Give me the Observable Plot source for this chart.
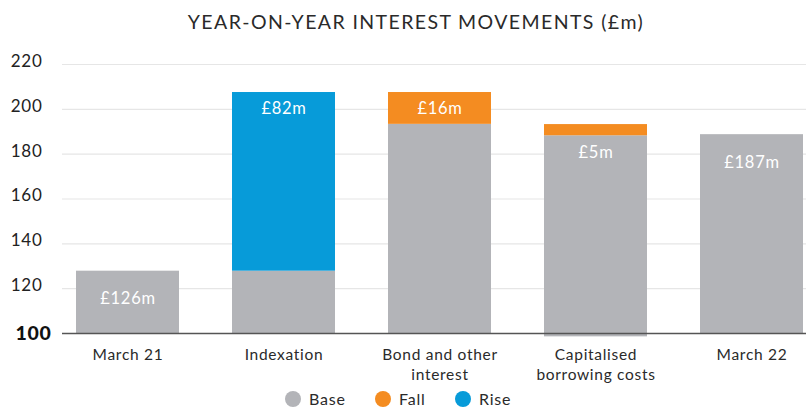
<!DOCTYPE html>
<html>
<head>
<meta charset="utf-8">
<script src="https://cdn.jsdelivr.net/npm/d3@7"></script>
<script src="https://cdn.jsdelivr.net/npm/@observablehq/plot@0.6"></script>
<style>
  html, body { margin: 0; padding: 0; background: #fff; width: 806px; height: 407px; overflow: hidden; font-family: Lato, "Open Sans", sans-serif; }
  #title { height: 40px; line-height: 44px; text-align: center; font-size: 19.5px; color: #2a2a2a; letter-spacing: 1.4px; padding-left: 26px; box-sizing: border-box; }
  #legend { position: relative; height: 22px; }
  .li { position: absolute; top: 4px; display: flex; align-items: center; font-size: 16px; color: #2a2a2a; letter-spacing: 0.8px; }
  .sw { width: 16px; height: 16px; border-radius: 50%; margin-right: 8px; }
  svg text { letter-spacing: 0.7px; }
</style>
</head>
<body>
<div id="title">YEAR-ON-YEAR INTEREST MOVEMENTS (£m)</div>
<div id="chart"></div>
<div id="legend"></div>
<script>
const categories = ["March 21", "Indexation", "Bond and other interest", "Capitalised borrowing costs", "March 22"];
const tickLabels = ["March 21", "Indexation", "Bond and other\ninterest", "Capitalised\nborrowing costs", "March 22"];
const baseLow  = [100, 100, 100, 98.5, 100];
const baseTop  = [127.8, 127.8, 193.3, 188.2, 188.7];
const moveTop  = [null, 207.5, 207.5, 193.2, null];
const moveType = ["Base", "Rise", "Fall", "Fall", "Base"];
const labels   = ["£126m", "£82m", "£16m", "£5m", "£187m"];
const yTicks   = [120, 140, 160, 180, 200, 220];
const legendNames = ["Base", "Fall", "Rise"];
const colors = {Base: "#b3b4b8", Fall: "#f48c21", Rise: "#079bd9"};

const baseRows = categories.map((c, i) => ({cat: c, y1: baseLow[i], y2: baseTop[i]}));
const moveRows = categories.map((c, i) => ({cat: c, y1: baseTop[i], y2: moveTop[i], type: moveType[i]})).filter(d => d.y2 != null);
const labelRows = categories.map((c, i) => ({cat: c, top: Math.max(baseTop[i], moveTop[i] ?? 0), label: labels[i], high: moveTop[i] != null && moveTop[i] > 200}));
const tickMap = new Map(categories.map((c, i) => [c, tickLabels[i]]));

const chart = Plot.plot({
  width: 806,
  height: 345,
  marginTop: 24,
  marginBottom: 52,
  marginLeft: 62,
  marginRight: 0,
  style: {fontFamily: "Lato, 'Open Sans', sans-serif", background: "#fff", overflow: "hidden"},
  x: {domain: categories, range: [74, 806], paddingInner: 0.337, paddingOuter: 0, axis: null},
  y: {domain: [100, 220], axis: null},
  marks: [
    Plot.ruleY(yTicks, {stroke: "#e6e6e6", strokeWidth: 1.2}),
    Plot.text(yTicks, {y: d => d, frameAnchor: "left", dx: -20, textAnchor: "end", dy: -3, text: d => String(d), fontSize: 17, fill: "#222"}),
    Plot.barY(baseRows, {x: "cat", y1: "y1", y2: "y2", fill: colors.Base}),
    Plot.barY(moveRows, {x: "cat", y1: "y1", y2: "y2", fill: d => colors[d.type]}),
    Plot.ruleY([100], {stroke: "#555", strokeWidth: 1.3}),
    Plot.text([100], {y: d => d, frameAnchor: "left", dx: -11, textAnchor: "end", text: d => String(d), fontSize: 19.5, fontWeight: 900, fill: "#111"}),
    Plot.text(labelRows.filter(d => !d.high), {x: "cat", y: "top", text: "label", dy: 28, fill: "#fff", fontSize: 16.5}),
    Plot.text(labelRows.filter(d => d.high), {x: "cat", y: "top", text: "label", dy: 16, fill: "#fff", fontSize: 16.5}),
    Plot.axisX({label: null, tickSize: 0, tickPadding: 12, fontSize: 15.5, lineHeight: 1.3, tickFormat: d => tickMap.get(d), fill: "#2a2a2a"})
  ]
});
document.getElementById("chart").appendChild(chart);

const lg = document.getElementById("legend");
const lx = [285, 375, 455];
legendNames.forEach((n, i) => {
  const el = document.createElement("div");
  el.className = "li";
  el.style.left = lx[i] + "px";
  el.innerHTML = `<span class="sw" style="background:${colors[n]}"></span><span>${n}</span>`;
  lg.appendChild(el);
});
</script>
</body>
</html>
